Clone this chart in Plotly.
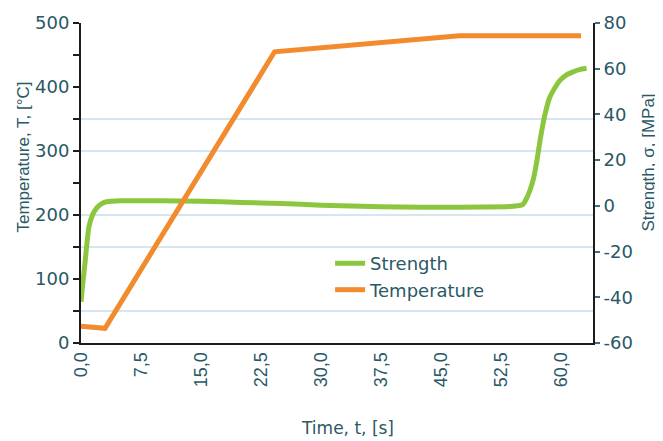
import plotly.graph_objects as go

# ---- data ----
time_temp = [0.0, 3.0, 24.2, 47.3, 62.5]
temperature = [26, 23, 455, 480, 480]

time_strength = [0.0, 0.25, 0.5, 0.75, 1.0, 1.5, 2.0, 2.5, 3.2, 5.0, 10.0, 15.0, 20.0, 25.0,
                 30.0, 35.0, 40.0, 45.0, 50.0, 53.5, 55.2, 55.8, 56.5, 57.0, 57.4, 58.0,
                 58.6, 59.3, 59.9, 60.7, 61.5, 62.3, 63.2]
strength = [-42, -33, -25, -16, -9, -3.5, -0.8, 0.8, 1.8, 2.2, 2.2, 2.0, 1.5, 1.0,
            0.3, -0.2, -0.5, -0.6, -0.5, -0.3, 0.5, 4, 11, 20, 29, 40,
            47.5, 52, 55, 57.3, 58.6, 59.6, 60.2]

x_tickvals = [0, 7.5, 15, 22.5, 30, 37.5, 45, 52.5, 60]
x_ticktext = ["0,0", "7,5", "15,0", "22,5", "30,0", "37,5", "45,0", "52,5", "60,0"]
s_tickvals = [-60, -40, -20, 0, 20, 40, 60, 80]
s_ticktext = ["-60", "-40", "-20", "0", "20", "40", "60", "80"]
temp_grid_vals = [50, 150, 200, 300, 350]

TXT = "#2a5866"
AX = "#1c1c1c"
TICK = "#3d6f80"
ARIAL = "Liberation Sans, Arial, sans-serif"
WIDE = "DejaVu Sans, sans-serif"

fig = go.Figure()
fig.add_trace(go.Scatter(x=time_strength, y=strength, name="Strength", mode="lines",
                         line=dict(color="#8cc63e", width=5, shape="spline", smoothing=0.6),
                         xaxis="x", yaxis="y"))
fig.add_trace(go.Scatter(x=time_temp, y=temperature, name="Temperature", mode="lines",
                         line=dict(color="#f28a2e", width=5),
                         xaxis="x", yaxis="y2"))

for v in temp_grid_vals:
    fig.add_shape(type="line", xref="paper", x0=0, x1=1, yref="y2", y0=v, y1=v,
                  line=dict(color="#a9cde0", width=1), layer="below")

fig.update_layout(
    width=655, height=433,
    margin=dict(l=73, r=70, t=15, b=98),
    paper_bgcolor="white", plot_bgcolor="white",
    font=dict(family=WIDE, size=18, color=TXT),
    showlegend=True,
    legend=dict(x=0.4865, y=0.306, xanchor="left", yanchor="top",
                bgcolor="rgba(0,0,0,0)", font=dict(family=WIDE, size=18, color=TXT),
                tracegroupgap=0, itemwidth=30),
    xaxis=dict(range=[0, 64], tickmode="array", tickvals=x_tickvals, ticktext=x_ticktext,
               tickangle=-90, ticks="", showline=True, linecolor=AX, linewidth=2,
               showgrid=False, zeroline=False, automargin=False,
               tickfont=dict(family=ARIAL, size=18, color=TXT), anchor="y"),
    xaxis2=dict(range=[0, 64], overlaying="x", anchor="y", dtick=5, tick0=0,
                ticks="outside", ticklen=5, tickwidth=1.5, tickcolor=TICK, automargin=False,
                showticklabels=False, showgrid=False, zeroline=False, showline=False),
    xaxis3=dict(range=[0, 64], overlaying="x", anchor="y", dtick=5, tick0=0,
                ticks="inside", ticklen=5, tickwidth=1.5, tickcolor=TICK, automargin=False,
                showticklabels=False, showgrid=False, zeroline=False, showline=False),
    yaxis=dict(range=[-60, 80], side="right", tickmode="array", tickvals=s_tickvals,
               ticktext=s_ticktext, ticks="outside", automargin=False,
               ticklen=5, tickwidth=1.5, tickcolor=TICK, showline=True, linecolor=AX,
               linewidth=2, showgrid=False, zeroline=False,
               tickfont=dict(family=WIDE, size=18, color=TXT), anchor="x"),
    yaxis2=dict(range=[0, 500], side="left", overlaying="y", anchor="x", dtick=100,
                ticks="outside", ticklen=6, tickwidth=1.5, tickcolor=AX, automargin=False,
                minor=dict(dtick=50, ticks="outside", ticklen=6, tickwidth=1.5, tickcolor=AX),
                showline=True, linecolor=AX, linewidth=2, showgrid=False, zeroline=False,
                tickfont=dict(family=WIDE, size=18, color=TXT)),
    yaxis3=dict(range=[0, 500], side="left", overlaying="y", anchor="x", dtick=50,
                ticks="inside", ticklen=6, tickwidth=1.5, tickcolor=AX, automargin=False,
                showticklabels=False, showgrid=False, zeroline=False, showline=False),
    yaxis4=dict(range=[-60, 80], side="right", overlaying="y", anchor="x", dtick=20, tick0=0,
                ticks="inside", ticklen=5, tickwidth=1.5, tickcolor=TICK, automargin=False,
                showticklabels=False, showgrid=False, zeroline=False, showline=False),
    annotations=[
        dict(text="Time, t, [s]", xref="paper", yref="paper", x=0.521, y=-0.266,
             xanchor="center", yanchor="middle", showarrow=False,
             font=dict(family=WIDE, size=17, color=TXT)),
        dict(text="Temperature, T, [°C]", xref="paper", yref="paper", x=-0.113, y=0.58,
             xanchor="center", yanchor="middle", textangle=-90, showarrow=False,
             font=dict(family=ARIAL, size=17, color=TXT)),
        dict(text="Strength, σ, [MPa]", xref="paper", yref="paper", x=1.108, y=0.565,
             xanchor="center", yanchor="middle", textangle=-90, showarrow=False,
             font=dict(family=ARIAL, size=17, color=TXT)),
    ],
)

fig.write_html("out.html")
